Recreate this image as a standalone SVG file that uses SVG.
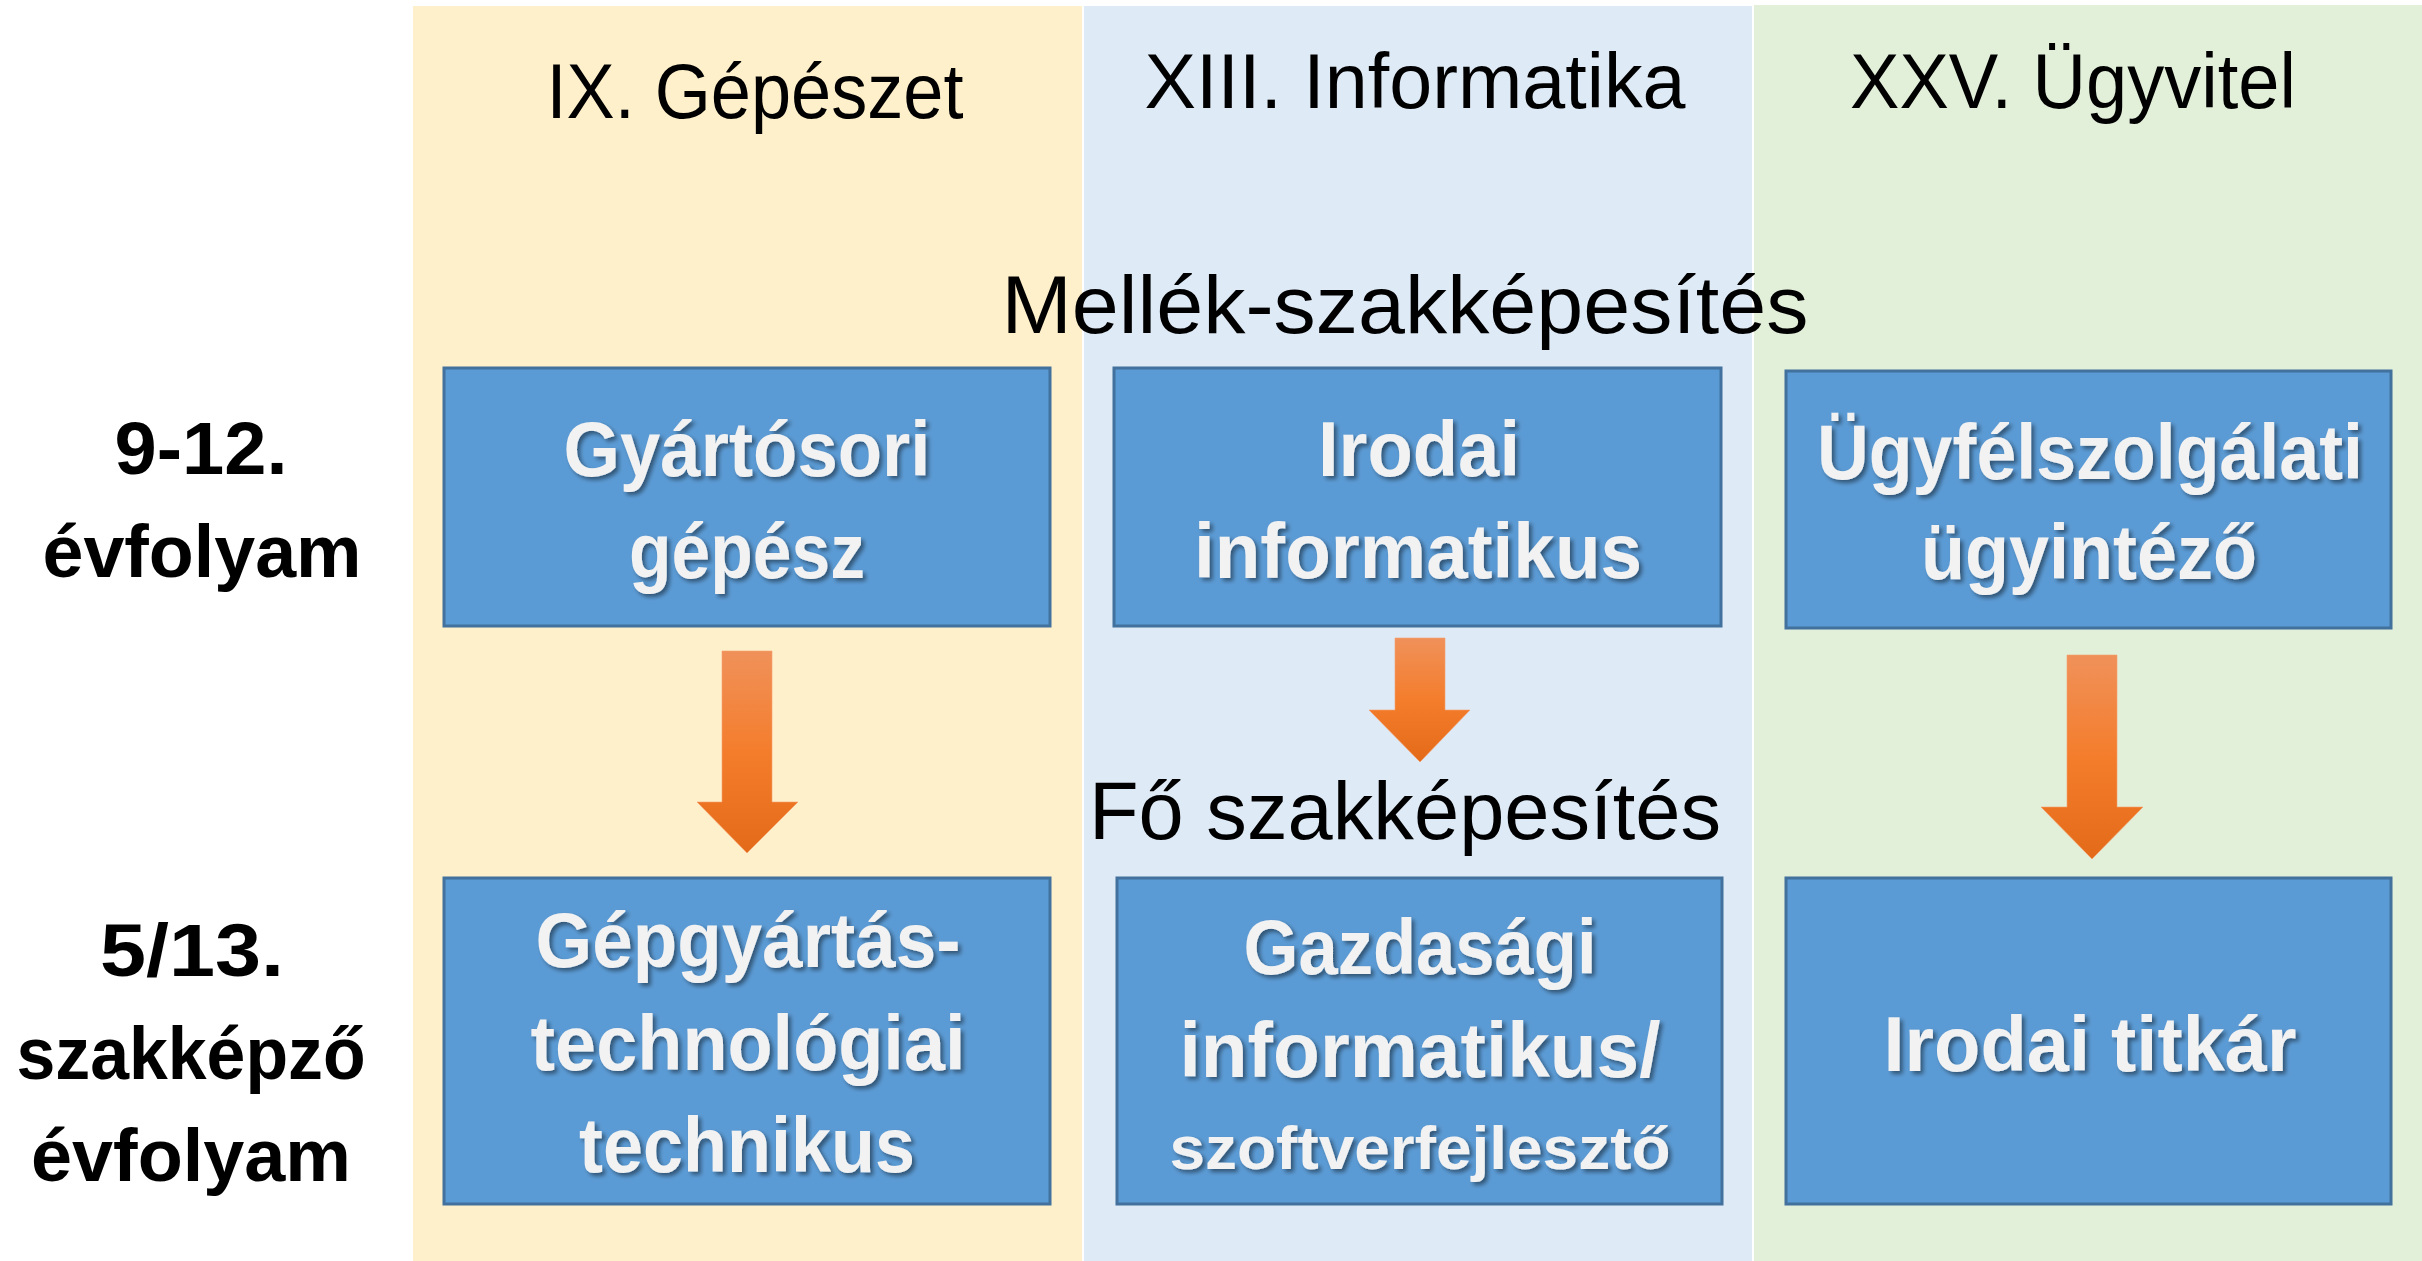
<svg xmlns="http://www.w3.org/2000/svg" width="2422" height="1261" viewBox="0 0 2422 1261">
<defs>
<style>
.hdr{font-family:"Liberation Sans",Arial,sans-serif;font-size:78px;fill:#000;text-anchor:middle}
.cat{font-family:"Liberation Sans",Arial,sans-serif;font-size:82px;fill:#000;text-anchor:middle}
.lvl{font-family:"Liberation Sans",Arial,sans-serif;font-size:75px;font-weight:bold;fill:#000;text-anchor:middle}
.box{fill:#5B9BD5;stroke:#41719C;stroke-width:3}
.bt{font-family:"Liberation Sans",Arial,sans-serif;font-size:77px;font-weight:bold;fill:#F2F2F2;text-anchor:middle;filter:url(#sh)}
.arr{fill:url(#og);stroke:#F5A070;stroke-width:1;stroke-opacity:0.6}
</style>
<linearGradient id="og" x1="0" y1="0" x2="0" y2="1">
<stop offset="0" stop-color="#F0915A"/>
<stop offset="0.5" stop-color="#F47D2C"/>
<stop offset="1" stop-color="#E36A18"/>
</linearGradient>
<filter id="sh" x="-10%" y="-20%" width="120%" height="150%">
<feDropShadow dx="3" dy="3" stdDeviation="2" flood-color="#000" flood-opacity="0.45"/>
</filter>
</defs>
<rect width="2422" height="1261" fill="#FFFFFF"/>
<g id="columns">
<rect x="413" y="6" width="669" height="1255" fill="#FFF0CC"/>
<rect x="1084" y="6" width="668" height="1255" fill="#DEEAF6"/>
<rect x="1754" y="5" width="668" height="1256" fill="#E2EFD9"/>
</g>
<g id="headers">
<text class="hdr" x="755" y="118" textLength="417" lengthAdjust="spacingAndGlyphs">IX. Gépészet</text>
<text class="hdr" x="1415" y="108" textLength="541" lengthAdjust="spacingAndGlyphs">XIII. Informatika</text>
<text class="hdr" x="2073" y="108" textLength="446" lengthAdjust="spacingAndGlyphs">XXV. Ügyvitel</text>
</g>
<g id="row-labels">
<text class="lvl" x="201" y="474" textLength="173" lengthAdjust="spacingAndGlyphs">9-12.</text>
<text class="lvl" x="202" y="577" textLength="319" lengthAdjust="spacingAndGlyphs">évfolyam</text>
<text class="lvl" x="192" y="976" textLength="184" lengthAdjust="spacingAndGlyphs">5/13.</text>
<text class="lvl" x="191" y="1079" textLength="349" lengthAdjust="spacingAndGlyphs">szakképző</text>
<text class="lvl" x="191" y="1181" textLength="320" lengthAdjust="spacingAndGlyphs">évfolyam</text>
</g>
<g id="category-labels">
<text class="cat" x="1405" y="333" textLength="807" lengthAdjust="spacingAndGlyphs">Mellék-szakképesítés</text>
<text class="cat" x="1405" y="839" textLength="632" lengthAdjust="spacingAndGlyphs">Fő szakképesítés</text>
</g>
<g id="node-gyartosori">
<rect class="box" x="444" y="368" width="606" height="258"/>
<text class="bt" x="747" y="476" textLength="367" lengthAdjust="spacingAndGlyphs">Gyártósori</text>
<text class="bt" x="747" y="578" textLength="236" lengthAdjust="spacingAndGlyphs">gépész</text>
</g>
<g id="node-irodai-informatikus">
<rect class="box" x="1114" y="368" width="607" height="258"/>
<text class="bt" x="1419" y="476" textLength="202" lengthAdjust="spacingAndGlyphs">Irodai</text>
<text class="bt" x="1418" y="578" textLength="448" lengthAdjust="spacingAndGlyphs">informatikus</text>
</g>
<g id="node-ugyfelszolgalati">
<rect class="box" x="1786" y="371" width="605" height="257"/>
<text class="bt" x="2090" y="479" textLength="546" lengthAdjust="spacingAndGlyphs">Ügyfélszolgálati</text>
<text class="bt" x="2089" y="579" textLength="336" lengthAdjust="spacingAndGlyphs">ügyintéző</text>
</g>
<g id="node-gepgyartas">
<rect class="box" x="444" y="878" width="606" height="326"/>
<text class="bt" x="748" y="967" textLength="425" lengthAdjust="spacingAndGlyphs">Gépgyártás-</text>
<text class="bt" x="748" y="1070" textLength="435" lengthAdjust="spacingAndGlyphs">technológiai</text>
<text class="bt" x="747" y="1172" textLength="336" lengthAdjust="spacingAndGlyphs">technikus</text>
</g>
<g id="node-gazdasagi">
<rect class="box" x="1117" y="878" width="605" height="326"/>
<text class="bt" x="1420" y="974" textLength="353" lengthAdjust="spacingAndGlyphs">Gazdasági</text>
<text class="bt" x="1420" y="1077" textLength="481" lengthAdjust="spacingAndGlyphs">informatikus/</text>
<text class="bt" x="1420" y="1169" style="font-size:62px" textLength="501" lengthAdjust="spacingAndGlyphs">szoftverfejlesztő</text>
</g>
<g id="node-irodai-titkar">
<rect class="box" x="1786" y="878" width="605" height="326"/>
<text class="bt" x="2090" y="1071" textLength="413" lengthAdjust="spacingAndGlyphs">Irodai titkár</text>
</g>
<g id="connectors">
<path class="arr" d="M722,651 H772 V802 H798 L747,853 L697,802 H722 Z"/>
<path class="arr" d="M1395,638 H1445 V710 H1470 L1420,762 L1369,710 H1395 Z"/>
<path class="arr" d="M2067,655 H2117 V807 H2143 L2092,859 L2041,807 H2067 Z"/>
</g>
</svg>
